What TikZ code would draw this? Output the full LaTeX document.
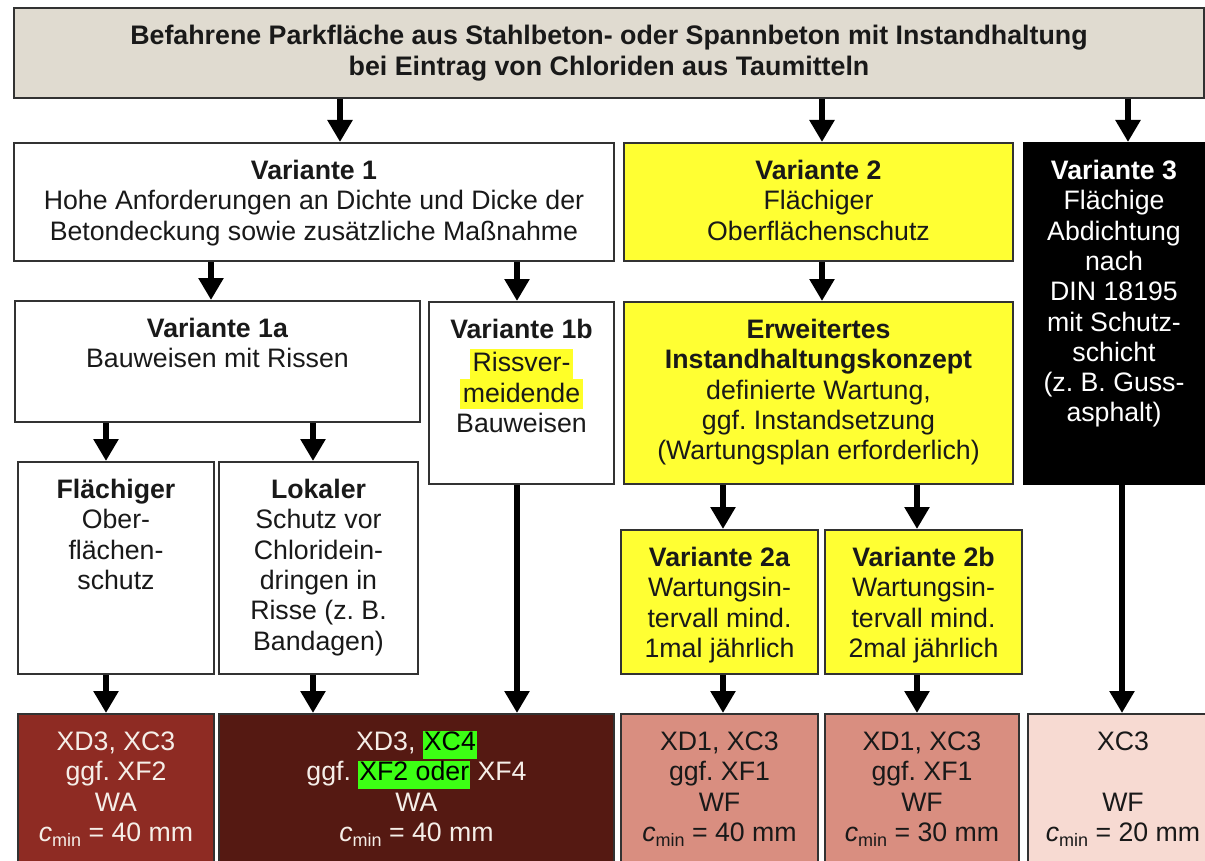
\documentclass[tikz,border=0pt]{standalone}
\usepackage{fontspec}
\setmainfont{Liberation Sans}
\usetikzlibrary{arrows.meta}
\frenchspacing
\definecolor{titlegray}{RGB}{224,219,208}
\definecolor{boxyellow}{RGB}{255,255,51}
\definecolor{hlyellow}{RGB}{255,255,40}
\definecolor{hlgreen}{RGB}{60,255,20}
\definecolor{redA}{RGB}{142,43,35}
\definecolor{redB}{RGB}{85,25,18}
\definecolor{salmon}{RGB}{217,142,128}
\definecolor{pinklight}{RGB}{247,218,210}
\definecolor{bordergray}{RGB}{50,50,50}
\definecolor{darktext}{RGB}{25,25,25}
\definecolor{lighttext}{RGB}{245,238,232}
\newcommand\bx[3]{\parbox[c][#2pt][t]{#1pt}{\centering\frenchspacing\vspace*{15.3pt}\strut #3\par}}
\newcommand\hly[1]{{\setlength{\fboxsep}{0pt}\colorbox{hlyellow}{\rule[-7pt]{0pt}{30.3pt}\hspace{3pt}#1\hspace{3pt}}}}
\newcommand\hlg[1]{{\setlength{\fboxsep}{0pt}\colorbox{hlgreen}{\rule[-8pt]{0pt}{28pt}\hspace{1pt}\color{black}#1\hspace{1pt}}}}
\newcommand\cmin{\textit{c}\raisebox{-5pt}{\fontsize{18}{18}\selectfont min}}
\tikzset{
  every node/.style={font=\fontsize{26.7}{30.3}\selectfont, inner sep=0pt, anchor=north west},
  boxbase/.style={draw=bordergray, line width=2pt, text=darktext},
  whitebox/.style={boxbase, fill=white},
  titlebox/.style={boxbase, fill=titlegray, font=\fontsize{26.8}{31}\selectfont\bfseries},
  yellowbox/.style={boxbase, fill=boxyellow},
  blackbox/.style={boxbase, draw=black, fill=black, text=white},
  resA/.style={boxbase, fill=redA, text=lighttext},
  resB/.style={boxbase, fill=redB, text=lighttext},
  resC/.style={boxbase, fill=salmon},
  resD/.style={boxbase, fill=pinklight},
  arr/.style={draw=black, line width=6.5pt, -{Triangle[width=24pt,length=22pt]}}
}
\begin{document}
\begin{tikzpicture}[x=1pt,y=-1pt]
\useasboundingbox (0,0) rectangle (1205,861);
\begin{scope}
\clip (0,0) rectangle (1205,861);
\fill[white] (0,0) rectangle (1205,861);

\node[titlebox] (top) at (13,7) {\bx{1190}{90}{Befahrene Parkfläche aus Stahlbeton- oder Spannbeton mit Instandhaltung\\bei Eintrag von Chloriden aus Taumitteln}};

\node[whitebox] (v1) at (13,142) {\bx{600}{118}{\textbf{Variante 1}\\Hohe Anforderungen an Dichte und Dicke der\\Betondeckung sowie zusätzliche Maßnahme}};
\node[yellowbox] (v2) at (623,142) {\bx{389}{118}{\textbf{Variante 2}\\Flächiger\\Oberflächenschutz}};
\node[blackbox] (v3) at (1023,142) {\bx{180}{341}{\textbf{Variante 3}\\Flächige\\Abdichtung\\nach\\DIN 18195\\mit Schutz-\\schicht\\(z. B. Guss-\\asphalt)}};

\node[whitebox] (v1a) at (14,300) {\bx{405}{121}{\textbf{Variante 1a}\\Bauweisen mit Rissen}};
\node[whitebox] (v1b) at (428,301) {\bx{185}{182}{\textbf{Variante 1b}\\\hly{Rissver-}\\\hly{meidende}\\Bauweisen}};
\node[yellowbox] (erw) at (623,301) {\bx{389}{182}{\textbf{Erweitertes}\\\textbf{Instandhaltungskonzept}\\definierte Wartung,\\ggf. Instandsetzung\\(Wartungsplan erforderlich)}};

\node[whitebox] (fl) at (17,461) {\bx{196}{212}{\textbf{Flächiger}\\Ober-\\flächen-\\schutz}};
\node[whitebox] (lok) at (218,461) {\bx{199}{212}{\textbf{Lokaler}\\Schutz vor\\Chloridein-\\dringen in\\Risse (z. B.\\Bandagen)}};
\node[yellowbox] (v2a) at (620,529) {\bx{197}{144}{\textbf{Variante 2a}\\Wartungsin-\\tervall mind.\\1mal jährlich}};
\node[yellowbox] (v2b) at (824,529) {\bx{197}{144}{\textbf{Variante 2b}\\Wartungsin-\\tervall mind.\\2mal jährlich}};

\node[resA] (b1) at (17,713) {\bx{196}{160}{XD3, XC3\\ggf. XF2\\WA\\\cmin{} = 40 mm}};
\node[resB] (b2) at (218,713) {\bx{395}{160}{XD3, \hlg{XC4}\\ggf. \hlg{XF2 oder} XF4\\WA\\\cmin{} = 40 mm}};
\node[resC] (b3) at (620,713) {\bx{197}{160}{XD1, XC3\\ggf. XF1\\WF\\\cmin{} = 40 mm}};
\node[resC] (b4) at (824,713) {\bx{194}{160}{XD1, XC3\\ggf. XF1\\WF\\\cmin{} = 30 mm}};
\node[resD] (b5) at (1027,713) {\bx{190}{160}{XC3\\\mbox{}\\WF\\\cmin{} = 20 mm}};

\coordinate (xa) at (340,0);
\coordinate (xb) at (822,0);
\coordinate (xc) at (1128,0);
\coordinate (xd) at (211,0);
\coordinate (xe) at (517,0);
\coordinate (xf) at (106,0);
\coordinate (xg) at (313,0);
\coordinate (xh) at (723,0);
\coordinate (xi) at (917,0);
\coordinate (xj) at (1122,0);

\draw[arr] (top.south -| xa) -- (v1.north -| xa);
\draw[arr] (top.south -| xb) -- (v2.north -| xb);
\draw[arr] (top.south -| xc) -- (v3.north -| xc);
\draw[arr] (v1.south -| xd) -- (v1a.north -| xd);
\draw[arr] (v1.south -| xe) -- (v1b.north -| xe);
\draw[arr] (v2.south -| xb) -- (erw.north -| xb);
\draw[arr] (v1a.south -| xf) -- (fl.north -| xf);
\draw[arr] (v1a.south -| xg) -- (lok.north -| xg);
\draw[arr] (erw.south -| xh) -- (v2a.north -| xh);
\draw[arr] (erw.south -| xi) -- (v2b.north -| xi);
\draw[arr] (fl.south -| xf) -- (b1.north -| xf);
\draw[arr] (lok.south -| xg) -- (b2.north -| xg);
\draw[arr] (v1b.south -| xe) -- (b2.north -| xe);
\draw[arr] (v2a.south -| xh) -- (b3.north -| xh);
\draw[arr] (v2b.south -| xi) -- (b4.north -| xi);
\draw[arr] (v3.south -| xj) -- (b5.north -| xj);
\end{scope}
\end{tikzpicture}
\end{document}
